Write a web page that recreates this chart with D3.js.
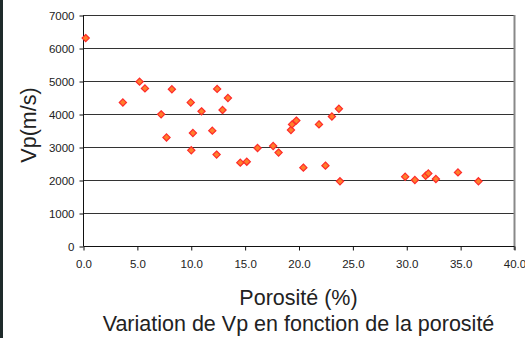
<!DOCTYPE html>
<html><head><meta charset="utf-8">
<script src="https://cdn.jsdelivr.net/npm/d3@7"></script>
<style>
html,body{margin:0;padding:0;background:#fff;}
svg{display:block;}
text{font-family:"Liberation Sans",Arial,sans-serif;fill:#222;}
</style></head>
<body>
<svg id="c" width="525" height="338"></svg>
<script>
const porosite = [0.25,3.7,5.25,5.75,7.25,7.75,8.25,10.0,10.05,10.2,11.0,12.0,12.4,12.45,12.95,13.45,14.6,15.2,16.2,17.65,18.15,19.3,19.4,19.8,20.45,21.9,22.5,23.1,23.75,23.85,29.9,30.8,31.8,32.05,32.75,34.8,36.7];
const vp = [6300,4350,4980,4775,3990,3290,4750,4350,2900,3425,4080,3495,2770,4760,4120,4485,2525,2555,2970,3030,2830,3515,3685,3800,2375,3685,2435,3925,4160,1960,2100,2000,2130,2200,2030,2230,1960];
const xTicks = [0,5,10,15,20,25,30,35,40];
const yTicks = [0,1000,2000,3000,4000,5000,6000,7000];
const xLabel = "Porosité (%)";
const yLabel = "Vp(m/s)";
const title = "Variation de Vp en fonction de la porosité";

const svg = d3.select("#c");
const L = 83, R = 514, T = 15, B = 246;
const x = d3.scaleLinear().domain([0,40]).range([L,R]);
const y = d3.scaleLinear().domain([0,7000]).range([B,T]);

// left dark strip
svg.append("rect").attr("x",0).attr("y",0).attr("width",3).attr("height",338).attr("fill","#1e2a2a");

// gridlines
svg.append("g").selectAll("line").data(yTicks.filter(d=>d>0)).join("line")
  .attr("x1",L).attr("x2",R).attr("y1",d=>Math.round(y(d))+0.5).attr("y2",d=>Math.round(y(d))+0.5)
  .attr("stroke","#333").attr("stroke-width",1);

// right border
svg.append("line").attr("x1",R+0.5).attr("x2",R+0.5).attr("y1",T).attr("y2",B+4)
  .attr("stroke","#888").attr("stroke-width",2);

// axes
const yAxis = d3.axisLeft(y).tickValues(yTicks).tickFormat(d3.format("d")).tickSize(4).tickPadding(5);
const gy = svg.append("g").attr("transform",`translate(${L+0.5},0.5)`).call(yAxis);
const xAxis = d3.axisBottom(x).tickValues(xTicks).tickFormat(d3.format(".1f")).tickSize(4).tickPadding(9);
const gx = svg.append("g").attr("transform",`translate(0.5,${B+0.5})`).call(xAxis);
[gx,gy].forEach(g=>{
  g.select(".domain").attr("stroke","#111");
  g.selectAll(".tick line").attr("stroke","#111");
  g.selectAll(".tick text").attr("font-size","11.5px").attr("fill","#222")
    .attr("font-family","'Liberation Sans',Arial,sans-serif");
});
gx.select(".domain").attr("d",`M${L},0H${R}`);
gy.select(".domain").attr("d",`M0,${B}V${T}`);

// points (square-proportioned diamonds)
const h = 3.6;
const diamond = `M0,${-h}L${h},0L0,${h}L${-h},0Z`;
svg.append("g").selectAll("path").data(porosite.map((p,i)=>[p,vp[i]])).join("path")
  .attr("d",diamond)
  .attr("transform",d=>`translate(${x(d[0])},${y(d[1])})`)
  .attr("fill","#ff7f2a").attr("stroke","#ff2a2a").attr("stroke-width",1.2);

// labels
svg.append("text").attr("x",(L+R)/2).attr("y",305).attr("text-anchor","middle")
  .attr("font-size","21.5px").text(xLabel);
svg.append("text").attr("x",(L+R)/2).attr("y",331).attr("text-anchor","middle")
  .attr("font-size","21.5px").text(title);
svg.append("text").attr("transform","translate(36,125) rotate(-90)").attr("text-anchor","middle")
  .attr("font-size","21.5px").text(yLabel);
</script>
</body></html>
